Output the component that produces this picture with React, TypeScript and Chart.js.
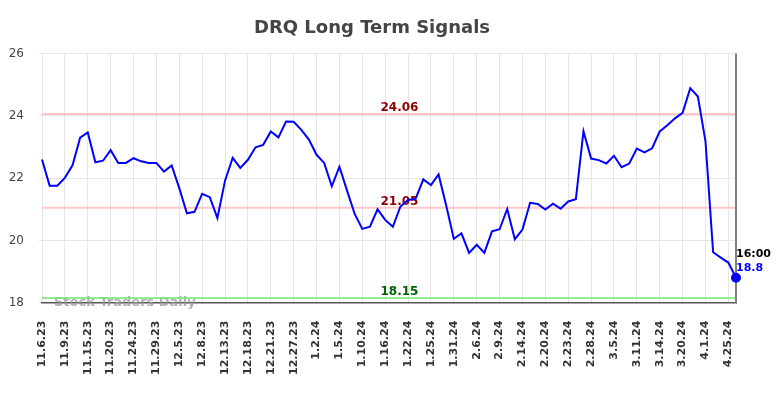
import React, { useEffect, useRef } from "react";
import { Chart, registerables } from "chart.js";

Chart.register(...registerables);

const labels: string[] = [
  "11.6.23", "11.7.23", "11.8.23", "11.9.23", "11.10.23", "11.14.23", "11.15.23", "11.16.23", "11.17.23", "11.20.23",
  "11.21.23", "11.22.23", "11.24.23", "11.27.23", "11.28.23", "11.29.23", "11.30.23", "12.1.23", "12.5.23", "12.6.23",
  "12.7.23", "12.8.23", "12.11.23", "12.12.23", "12.13.23", "12.14.23", "12.15.23", "12.18.23", "12.19.23", "12.20.23",
  "12.21.23", "12.22.23", "12.26.23", "12.27.23", "12.28.23", "12.29.23", "1.2.24", "1.3.24", "1.4.24", "1.5.24",
  "1.8.24", "1.9.24", "1.10.24", "1.11.24", "1.12.24", "1.16.24", "1.17.24", "1.18.24", "1.22.24", "1.23.24",
  "1.24.24", "1.25.24", "1.26.24", "1.30.24", "1.31.24", "2.1.24", "2.5.24", "2.6.24", "2.7.24", "2.8.24",
  "2.9.24", "2.12.24", "2.13.24", "2.14.24", "2.15.24", "2.16.24", "2.20.24", "2.21.24", "2.22.24", "2.23.24",
  "2.26.24", "2.27.24", "2.28.24", "2.29.24", "3.1.24", "3.5.24", "3.6.24", "3.7.24", "3.11.24", "3.12.24",
  "3.13.24", "3.14.24", "3.15.24", "3.18.24", "3.20.24", "3.21.24", "3.26.24", "4.1.24", "4.2.24", "4.12.24",
  "4.25.24", "4.26.24",
];

const prices: number[] = [
  22.60, 21.76, 21.76, 22.01, 22.41, 23.30, 23.47, 22.51, 22.56, 22.90,
  22.49, 22.49, 22.64, 22.54, 22.49, 22.49, 22.21, 22.41, 21.68, 20.87,
  20.92, 21.50, 21.39, 20.72, 21.92, 22.65, 22.33, 22.59, 22.99, 23.07,
  23.50, 23.31, 23.82, 23.81, 23.55, 23.24, 22.75, 22.49, 21.74, 22.37,
  21.60, 20.85, 20.37, 20.44, 21.00, 20.66, 20.44, 21.09, 21.30, 21.34,
  21.96, 21.78, 22.12, 21.12, 20.05, 20.23, 19.60, 19.86, 19.60, 20.29,
  20.36, 21.01, 20.04, 20.35, 21.21, 21.17, 20.99, 21.18, 21.02, 21.25,
  21.32, 23.51, 22.63, 22.58, 22.47, 22.72, 22.35, 22.47, 22.95, 22.83,
  22.96, 23.50, 23.70, 23.92, 24.10, 24.89, 24.62, 23.18, 19.62, 19.45,
  19.29, 18.80,
];

const resistanceLevels: number[] = [24.06, 21.05];
const supportLevels: number[] = [18.15];
const lastTimeLabel = "16:00";
const lastPriceLabel = "18.8";
const yTicks: number[] = [18, 20, 22, 24, 26];

const FONT = "'DejaVu Sans', sans-serif";

const overlayPlugin = {
  id: "overlay",
  beforeDatasetsDraw(chart: any) {
    const { ctx, chartArea, scales } = chart;
    const y = scales.y;
    const x = scales.x;
    const cx = chartArea.left + (chartArea.right - chartArea.left) * 0.515;
    ctx.save();
    // watermark
    ctx.font = `bold 13px ${FONT}`;
    ctx.fillStyle = "rgba(150,150,150,0.75)";
    ctx.textAlign = "left";
    ctx.textBaseline = "middle";
    ctx.fillText("Stock Traders Daily", chartArea.left + 12, chartArea.bottom);
    // level lines
    const drawLevel = (v: number, lineColor: string, textColor: string) => {
      const py = y.getPixelForValue(v);
      ctx.strokeStyle = lineColor;
      ctx.lineWidth = 2;
      ctx.beginPath();
      ctx.moveTo(chartArea.left, py);
      ctx.lineTo(chartArea.right, py);
      ctx.stroke();
      ctx.font = `bold 12px ${FONT}`;
      ctx.fillStyle = textColor;
      ctx.textAlign = "center";
      ctx.textBaseline = "alphabetic";
      ctx.fillText(v.toFixed(2), cx, py - 3);
    };
    resistanceLevels.forEach((v) => drawLevel(v, "rgba(255,180,180,0.75)", "#8b0000"));
    supportLevels.forEach((v) => drawLevel(v, "rgba(120,230,120,0.8)", "#006400"));
    // vertical marker at last point
    const lx = x.getPixelForValue(prices.length - 1);
    ctx.strokeStyle = "#808080";
    ctx.lineWidth = 2;
    ctx.beginPath();
    ctx.moveTo(lx, chartArea.top);
    ctx.lineTo(lx, chartArea.bottom);
    ctx.stroke();
    ctx.restore();
  },
  afterDatasetsDraw(chart: any) {
    const { ctx, scales } = chart;
    const last = prices.length - 1;
    const lx = scales.x.getPixelForValue(last);
    const ly = scales.y.getPixelForValue(prices[last]);
    ctx.save();
    ctx.font = `bold 11px ${FONT}`;
    ctx.textAlign = "left";
    ctx.textBaseline = "middle";
    ctx.fillStyle = "#000";
    ctx.fillText(lastTimeLabel, lx, ly - 24);
    ctx.fillStyle = "#0000ff";
    ctx.fillText(lastPriceLabel, lx, ly - 10);
    ctx.restore();
  },
};

export default function App() {
  const ref = useRef<HTMLCanvasElement | null>(null);
  useEffect(() => {
    if (!ref.current) return;
    const chart = new Chart(ref.current, {
      type: "line",
      data: {
        labels,
        datasets: [
          {
            data: prices,
            borderColor: "#0000ff",
            backgroundColor: "#0000ff",
            borderWidth: 2,
            tension: 0,
            pointRadius: (c: any) => (c.dataIndex === prices.length - 1 ? 4 : 0),
            pointHoverRadius: 0,
          },
        ],
      },
      options: {
        animation: false,
        responsive: false,
        layout: { padding: { left: 0, right: 40, top: 0, bottom: 5 } },
        plugins: {
          legend: { display: false },
          tooltip: { enabled: false },
          title: {
            display: true,
            text: "DRQ Long Term Signals",
            color: "#444",
            font: { family: FONT, size: 18, weight: "bold" },
            padding: { top: 10, bottom: 14 },
          },
        },
        scales: {
          x: {
            type: "category",
            offset: false,
            afterFit: (axis: any) => {
              axis.paddingLeft = 0;
              axis.paddingRight = 0;
            },
            grid: {
              color: (c: any) => (c.index % 3 === 0 ? "#e6e6e6" : "rgba(0,0,0,0)"),
              drawTicks: false,
            },
            border: { display: true, color: "#555", width: 1.5 },
            ticks: {
              autoSkip: false,
              maxRotation: 90,
              minRotation: 90,
              padding: 18,
              color: "#333",
              font: { family: FONT, size: 11, weight: "bold" },
              callback: (_v: any, i: number) => (i % 3 === 0 ? labels[i] : ""),
            },
          },
          y: {
            min: yTicks[0],
            max: yTicks[yTicks.length - 1],
            afterBuildTicks: (axis: any) => {
              axis.ticks = yTicks.map((v) => ({ value: v }));
            },
            afterFit: (axis: any) => {
              axis.width = 34;
            },
            grid: { color: "#e6e6e6", tickLength: 3 },
            border: { display: false },
            ticks: {
              padding: 15,
              color: "#444",
              font: { family: FONT, size: 12 },
            },
          },
        },
      },
      plugins: [overlayPlugin],
    } as any);
    return () => chart.destroy();
  }, []);
  return <canvas ref={ref} width={768} height={390} />;
}
